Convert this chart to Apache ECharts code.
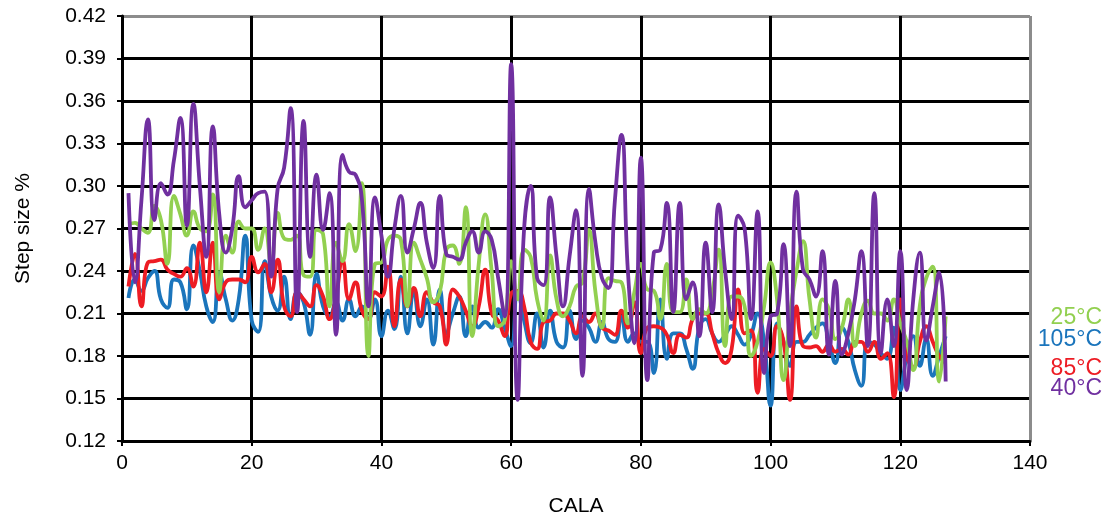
<!DOCTYPE html>
<html>
<head>
<meta charset="utf-8">
<script src="https://cdn.jsdelivr.net/npm/echarts@6/dist/echarts.min.js"></script>
<style>
html,body{margin:0;padding:0;background:#fff;}
#chart{width:1110px;height:523px;}
</style>
</head>
<body>
<div id="chart"></div>
<script>
// CALA index runs 1..127
const cala = Array.from({length: 127}, (_, i) => i + 1);

const xTicks = [0, 20, 40, 60, 80, 100, 120, 140];
const yTicks = ['0.12','0.15','0.18','0.21','0.24','0.27','0.30','0.33','0.36','0.39','0.42'];

const seriesNames = ['105°C', '85°C', '25°C', '40°C'];

const s25 = [
0.273,0.274,0.270,0.267,0.286,0.276,0.245,0.293,0.280,0.265,
0.282,0.270,0.268,0.294,0.225,0.265,0.253,0.275,0.270,0.270,
0.255,0.270,0.245,0.281,0.263,0.262,0.265,0.237,0.236,0.269,
0.266,0.215,0.260,0.247,0.273,0.254,0.302,0.180,0.245,0.246,
0.262,0.265,0.262,0.215,0.260,0.248,0.235,0.218,0.225,0.255,
0.258,0.245,0.285,0.194,0.245,0.280,0.240,0.201,0.205,0.247,
0.220,0.255,0.250,0.220,0.205,0.251,0.220,0.208,0.215,0.229,
0.232,0.269,0.225,0.200,0.235,0.233,0.232,0.203,0.225,0.245,
0.227,0.226,0.206,0.245,0.211,0.211,0.234,0.206,0.213,0.210,
0.225,0.255,0.187,0.222,0.222,0.215,0.180,0.190,0.215,0.246,
0.220,0.163,0.210,0.240,0.261,0.220,0.193,0.220,0.213,0.192,
0.200,0.220,0.187,0.210,0.219,0.210,0.210,0.205,0.220,0.203,
0.190,0.170,0.215,0.235,0.243,0.162,0.208
];

const s105 = [
0.221,0.234,0.226,0.235,0.240,0.220,0.214,0.234,0.232,0.213,
0.258,0.240,0.215,0.204,0.239,0.220,0.205,0.220,0.265,0.205,
0.197,0.247,0.222,0.212,0.236,0.206,0.225,0.218,0.195,0.238,
0.215,0.208,0.218,0.205,0.220,0.208,0.215,0.206,0.220,0.194,
0.212,0.199,0.236,0.196,0.225,0.201,0.220,0.188,0.227,0.196,
0.210,0.222,0.194,0.215,0.200,0.204,0.200,0.213,0.200,0.187,
0.226,0.205,0.189,0.210,0.186,0.212,0.190,0.186,0.212,0.192,
0.205,0.200,0.190,0.204,0.192,0.190,0.208,0.190,0.196,0.190,
0.190,0.168,0.220,0.178,0.196,0.196,0.185,0.171,0.200,0.206,
0.196,0.190,0.195,0.201,0.195,0.188,0.195,0.210,0.190,0.145,
0.203,0.190,0.173,0.190,0.190,0.195,0.200,0.203,0.190,0.175,
0.200,0.190,0.170,0.159,0.190,0.188,0.182,0.178,0.200,0.156,
0.180,0.194,0.173,0.192,0.166,0.180,0.194
];

const s85 = [
0.229,0.252,0.215,0.246,0.247,0.248,0.241,0.238,0.236,0.242,
0.229,0.260,0.225,0.260,0.220,0.232,0.234,0.234,0.232,0.250,
0.239,0.245,0.225,0.248,0.215,0.208,0.225,0.220,0.215,0.230,
0.222,0.206,0.222,0.248,0.220,0.232,0.212,0.206,0.225,0.222,
0.243,0.201,0.234,0.215,0.228,0.208,0.225,0.218,0.215,0.188,
0.227,0.222,0.212,0.201,0.215,0.241,0.210,0.205,0.194,0.224,
0.226,0.215,0.190,0.185,0.204,0.205,0.210,0.210,0.205,0.196,
0.208,0.204,0.210,0.200,0.198,0.195,0.212,0.200,0.218,0.182,
0.200,0.201,0.200,0.195,0.182,0.195,0.193,0.206,0.210,0.210,
0.196,0.182,0.175,0.185,0.227,0.196,0.198,0.154,0.185,0.180,
0.201,0.190,0.149,0.215,0.187,0.186,0.187,0.183,0.188,0.183,
0.185,0.181,0.190,0.190,0.183,0.190,0.178,0.182,0.151,0.220,
0.180,0.172,0.190,0.201,0.190,0.180,0.175
];

const s40 = [
0.295,0.232,0.290,0.347,0.276,0.302,0.294,0.318,0.348,0.272,
0.358,0.300,0.250,0.342,0.280,0.253,0.270,0.307,0.285,0.290,
0.295,0.296,0.236,0.298,0.313,0.355,0.211,0.346,0.250,0.308,
0.269,0.295,0.195,0.322,0.310,0.308,0.290,0.215,0.292,0.265,
0.236,0.270,0.293,0.253,0.270,0.288,0.260,0.242,0.293,0.252,
0.250,0.248,0.260,0.268,0.253,0.268,0.262,0.235,0.208,0.386,
0.149,0.270,0.300,0.235,0.230,0.292,0.250,0.215,0.250,0.283,
0.166,0.298,0.260,0.235,0.228,0.290,0.336,0.240,0.189,0.320,
0.163,0.253,0.255,0.288,0.211,0.288,0.220,0.232,0.194,0.260,
0.211,0.287,0.240,0.206,0.279,0.270,0.206,0.282,0.168,0.208,
0.210,0.259,0.187,0.296,0.241,0.234,0.222,0.254,0.181,0.233,
0.181,0.196,0.220,0.254,0.187,0.295,0.182,0.220,0.187,0.254,
0.156,0.220,0.253,0.191,0.215,0.239,0.162
];

const colors = {'25°C':'#92D050','105°C':'#1B75BC','85°C':'#ED1C24','40°C':'#7030A0'};
const values = {'25°C': s25, '105°C': s105, '85°C': s85, '40°C': s40};

const FONT = '"Liberation Sans", Arial, sans-serif';

const chart = echarts.init(document.getElementById('chart'), null, {renderer: 'canvas'});

const splitColors = yTicks.map((t, i) => i === yTicks.length - 1 ? '#8c8c8c' : '#000');
const xSplitColors = xTicks.map((t, i) => i === xTicks.length - 1 ? '#8c8c8c' : '#000');

chart.setOption({
  animation: false,
  backgroundColor: '#fff',
  grid: {left: 122, right: 80, top: 16, bottom: 82, containLabel: false},
  xAxis: {
    type: 'value', min: 0, max: 140, interval: 20,
    name: 'CALA', nameLocation: 'middle', nameGap: 55,
    nameTextStyle: {fontFamily: FONT, fontSize: 21, color: '#000'},
    axisLine: {show: true, onZero: false, lineStyle: {color: '#000', width: 3}},
    axisTick: {show: true, length: 5, lineStyle: {color: '#000', width: 2}},
    axisLabel: {fontFamily: FONT, fontSize: 21, color: '#000', margin: 12,
      formatter: v => String(v)},
    splitLine: {show: true, lineStyle: {color: xSplitColors, width: 3}}
  },
  yAxis: {
    type: 'value', min: 0.12, max: 0.42, interval: 0.03,
    name: 'Step size %', nameLocation: 'middle', nameGap: 88, nameRotate: 90,
    nameTextStyle: {fontFamily: FONT, fontSize: 21, color: '#000'},
    axisLine: {show: true, onZero: false, lineStyle: {color: '#000', width: 3}},
    axisTick: {show: true, length: 5, lineStyle: {color: '#000', width: 2}},
    axisLabel: {fontFamily: FONT, fontSize: 21, color: '#000', margin: 16,
      formatter: v => yTicks[Math.round((v - 0.12) / 0.03)]},
    splitLine: {show: true, lineStyle: {color: splitColors, width: 3}}
  },
  series: seriesNames.map(name => ({
    name: name,
    type: 'line',
    smooth: 0.5,
    showSymbol: false,
    symbol: 'none',
    lineStyle: {color: colors[name], width: 3.8},
    itemStyle: {color: colors[name]},
    data: cala.map((x, i) => [x, values[name][i]])
  })),
  graphic: [
    {type: 'text', right: 8, top: 306, style: {text: '25°C', fill: colors['25°C'], font: '23px ' + FONT}},
    {type: 'text', right: 8, top: 328, style: {text: '105°C', fill: colors['105°C'], font: '23px ' + FONT}},
    {type: 'text', right: 8, top: 357, style: {text: '85°C', fill: colors['85°C'], font: '23px ' + FONT}},
    {type: 'text', right: 8, top: 377, style: {text: '40°C', fill: colors['40°C'], font: '23px ' + FONT}}
  ]
});
</script>
</body>
</html>
